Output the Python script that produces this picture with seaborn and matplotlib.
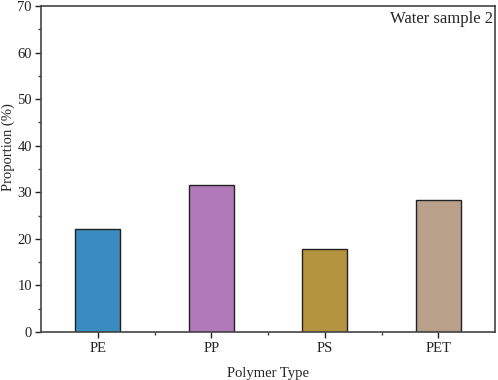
import matplotlib
matplotlib.use("Agg")
import matplotlib.pyplot as plt
import seaborn as sns
import pandas as pd
from matplotlib.ticker import MultipleLocator, FixedLocator

categories = ["PE", "PP", "PS", "PET"]
values = [22.1, 31.5, 17.8, 28.3]
colors = ["#3a8bbf", "#b07ab8", "#b59440", "#b9a08a"]

sns.set_style("ticks")
plt.rcParams['font.family'] = ['Liberation Serif', 'DejaVu Serif']

df = pd.DataFrame({"Polymer Type": categories, "Proportion": values})

fig = plt.figure(figsize=(4.98, 3.80), dpi=100)
ax = fig.add_axes([41/498, 48/380, 454/498, 326/380])
sns.barplot(data=df, x="Polymer Type", y="Proportion", hue="Polymer Type",
            palette=colors, width=0.4, edgecolor="#222222", linewidth=1.0,
            legend=False, ax=ax, saturation=1)
ax.set_xlim(-0.5, 3.5)
ax.set_ylim(0, 70)
ax.yaxis.set_major_locator(MultipleLocator(10))
ax.yaxis.set_minor_locator(MultipleLocator(5))
ax.xaxis.set_minor_locator(FixedLocator([0.5, 1.5, 2.5]))
for s in ax.spines.values():
    s.set_visible(True)
    s.set_color("#444444")
    s.set_linewidth(1.2)
ax.tick_params(axis="both", which="major", direction="out", length=4, width=1, colors="#222222")
ax.tick_params(axis="y", which="major", labelsize=10.5, pad=2.5)
ax.tick_params(axis="x", which="major", labelsize=10.5)
ax.tick_params(axis="both", which="minor", direction="out", length=2.5, width=1, colors="#444444")
ax.set_xlabel("Polymer Type", fontsize=10.5, labelpad=8)
ax.set_ylabel("Proportion (%)", fontsize=10.5, va="center")
ax.yaxis.set_label_coords(-0.072, 0.567)
ax.text(0.995, 0.985, "Water sample 2", transform=ax.transAxes, ha="right", va="top", fontsize=12)
fig.savefig("out.png", dpi=100)
